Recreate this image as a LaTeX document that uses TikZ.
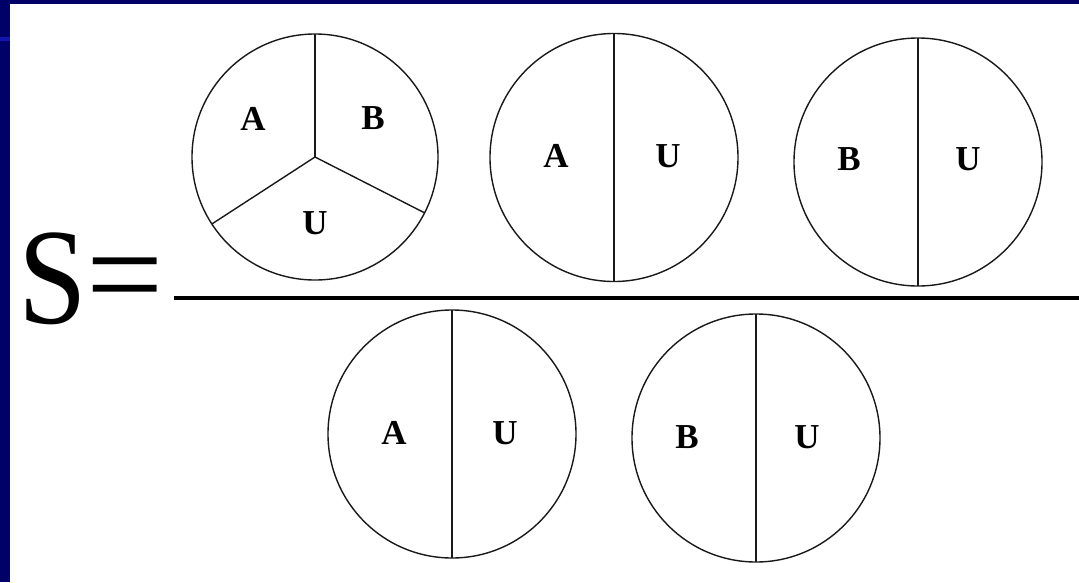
\documentclass[tikz,border=0pt]{standalone}
\usepackage{fontspec}
\setmainfont{Liberation Serif}
\definecolor{navy}{RGB}{0,0,104}
\definecolor{stripe}{RGB}{20,20,175}
\begin{document}
\begin{tikzpicture}[x=1pt,y=-1pt,
  venn/.style={circle,draw=black!90,line width=1.4pt,inner sep=0pt,outer sep=0pt,minimum size=#1},
  part/.style={draw=black!90,line width=1.4pt},
  lab/.style={inner sep=0pt,font=\fontsize{35}{40}\selectfont\bfseries},
  big/.style={inner sep=0pt,anchor=base,font=\fontsize{137}{140}\selectfont}]
\useasboundingbox (0,0) rectangle (1079,582);
\fill[navy] (0,0) rectangle (1079,582);
\fill[white] (10,4) rectangle (1079,582);
\fill[stripe] (0,37) rectangle (10,41);
% numerator
\node[venn=246pt] (c1) at (315,157) {};
\draw[part] (c1.center) -- (c1.north);
\draw[part] (c1.center) -- (c1.213);
\draw[part] (c1.center) -- (c1.-27);
\node[lab] (c1a) at (253,119) {A};
\node[lab] (c1b) at (373,118) {B};
\node[lab] (c1u) at (315,223) {U};
\node[venn=248pt] (c2) at (614,157.5) {};
\draw[part] (c2.north) -- (c2.south);
\node[lab] (c2a) at (556,156) {A};
\node[lab] (c2u) at (668,156) {U};
\node[venn=248pt] (c3) at (918,162) {};
\draw[part] (c3.north) -- (c3.south);
\node[lab] (c3b) at (849,159) {B};
\node[lab] (c3u) at (968,159) {U};
% fraction bar
\coordinate (fl) at (174,298);
\coordinate (fr) at (1079,298);
\draw[line width=3.5pt] (fl) -- (fr);
% denominator
\node[venn=248pt] (c4) at (452,434) {};
\draw[part] (c4.north) -- (c4.south);
\node[lab] (c4a) at (394,433) {A};
\node[lab] (c4u) at (505,433) {U};
\node[venn=248pt] (c5) at (756,438) {};
\draw[part] (c5.north) -- (c5.south);
\node[lab] (c5b) at (687,437) {B};
\node[lab] (c5u) at (807,437) {U};
% S =
\node[big,xscale=0.9] (s) at (53,323) {S};
\node[big] (eq) at (125,320) {=};
\end{tikzpicture}
\end{document}
